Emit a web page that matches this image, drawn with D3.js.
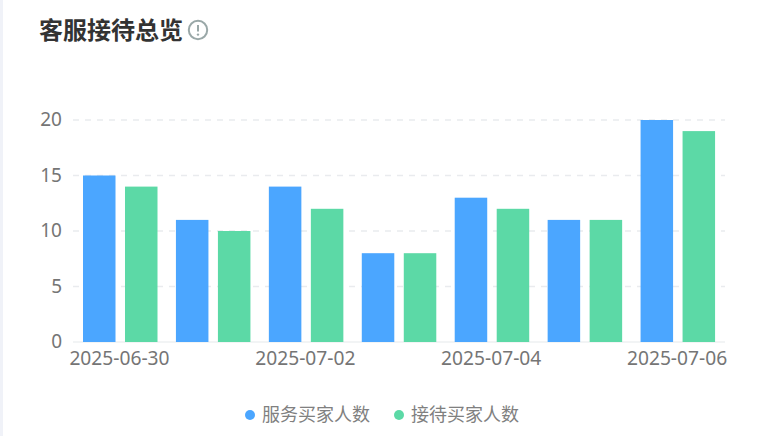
<!DOCTYPE html>
<html>
<head>
<meta charset="utf-8">
<script src="https://cdn.jsdelivr.net/npm/d3@7"></script>
<style>
  html, body { margin: 0; padding: 0; background: #fff; overflow: hidden; }
  text { font-family: "Noto Sans CJK SC", "Noto Sans", sans-serif; }
  .tick text { font-family: "Noto Sans", sans-serif; }
</style>
</head>
<body>
<div id="chart"></div>
<script>
const title = "客服接待总览";
const dates = ["2025-06-30", "2025-07-01", "2025-07-02", "2025-07-03", "2025-07-04", "2025-07-05", "2025-07-06"];
const servedBuyers = [15, 11, 14, 8, 13, 11, 20];
const receivedBuyers = [14, 10, 12, 8, 12, 11, 19];
const yTicks = [0, 5, 10, 15, 20];
const xTickLabels = ["2025-06-30", "2025-07-02", "2025-07-04", "2025-07-06"];
const seriesNames = ["服务买家人数", "接待买家人数"];
const seriesColors = ["#4ba6ff", "#5cd9a6"];

const width = 784, height = 436;
const svg = d3.select("#chart").append("svg")
  .attr("width", width).attr("height", height)
  .style("display", "block");

// page edge strip
svg.append("rect").attr("width", 3).attr("height", height).attr("fill", "#f0f2f8");

// title + info icon
svg.append("text").attr("x", 39).attr("y", 39)
  .attr("font-size", 24).attr("font-weight", 700).attr("fill", "#333")
  .text(title);
const icon = svg.append("g").attr("transform", "translate(198,30)");
icon.append("circle").attr("r", 9.2).attr("fill", "none").attr("stroke", "#9aa8a8").attr("stroke-width", 2);
icon.append("line").attr("y1", -5).attr("y2", 1.5).attr("stroke", "#9aa8a8").attr("stroke-width", 2);
icon.append("circle").attr("cy", 4.6).attr("r", 1.2).attr("fill", "#9aa8a8");

const x = d3.scaleBand().domain(dates).range([73, 723.5]);
const y = d3.scaleLinear().domain([0, 20]).range([342, 120]);
const inner = d3.scaleBand().domain([0, 1]).range([10, 84.5]).paddingInner(0.226);

// y axis + dashed grid
const yAxis = svg.append("g").attr("transform", "translate(73,-0.5)")
  .call(d3.axisLeft(y).tickValues(yTicks).tickSize(0).tickPadding(11));
yAxis.select(".domain").remove();
yAxis.selectAll("text").attr("font-size", 19).attr("fill", "#757575");

svg.append("g").selectAll("line").data(yTicks.filter(d => d > 0)).join("line")
  .attr("x1", 73).attr("x2", 725)
  .attr("y1", d => y(d)).attr("y2", d => y(d))
  .attr("stroke", "#e9ebee").attr("stroke-width", 1.3)
  .attr("stroke-dasharray", "6 6");

// x axis
const xAxis = svg.append("g").attr("transform", "translate(0,342)")
  .call(d3.axisBottom(x).tickValues(xTickLabels).tickSize(0).tickPadding(9));
xAxis.select(".domain").attr("d", "M73,0H725").attr("stroke", "#eef0f2").attr("stroke-width", 1.5);
xAxis.selectAll("text").attr("font-size", 19.2).attr("fill", "#757575");

// bars
[servedBuyers, receivedBuyers].forEach((values, s) => {
  svg.append("g").selectAll("rect").data(values).join("rect")
    .attr("x", (d, i) => x(dates[i]) + inner(s))
    .attr("y", d => y(d))
    .attr("width", inner.bandwidth())
    .attr("height", d => y(0) - y(d))
    .attr("fill", seriesColors[s]);
});

// legend
const legendX = [250, 399];
seriesNames.forEach((name, s) => {
  const g = svg.append("g").attr("transform", `translate(${legendX[s]},415)`);
  g.append("circle").attr("r", 5).attr("fill", seriesColors[s]);
  g.append("text").attr("x", 12).attr("y", 6).attr("font-size", 18).attr("fill", "#808080").text(name);
});
</script>
</body>
</html>
